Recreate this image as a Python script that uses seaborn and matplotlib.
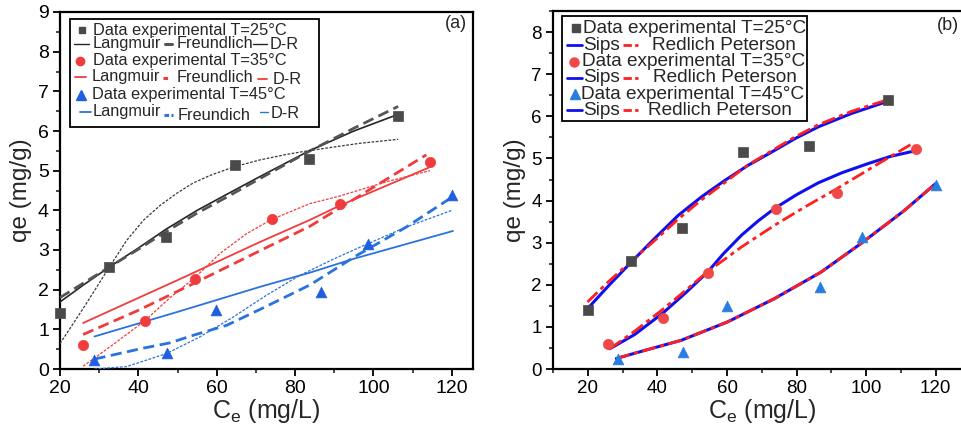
import numpy as np
import pandas as pd
import matplotlib
matplotlib.use("Agg")
import matplotlib.pyplot as plt
import seaborn as sns
from matplotlib.lines import Line2D
from matplotlib.patches import Rectangle
from matplotlib.ticker import MultipleLocator

# ---------------- data ----------------
ce_25 = [20.0, 32.4, 47.0, 64.7, 83.6, 106.3]
qe_25 = [1.40, 2.56, 3.34, 5.15, 5.30, 6.38]
ce_35 = [25.9, 41.7, 54.4, 74.1, 91.5, 114.4]
qe_35 = [0.60, 1.22, 2.28, 3.79, 4.17, 5.22]
ce_45 = [28.8, 47.4, 59.9, 86.7, 98.7, 120.1]
qe_45 = [0.23, 0.41, 1.49, 1.94, 3.14, 4.38]

# panel (a) model curves
lang25_x = [20, 26, 32.6, 40, 47, 55, 62.5, 71, 83.8, 95, 106.3]
lang25_y = [1.69, 2.12, 2.57, 3.05, 3.52, 4.00, 4.40, 4.85, 5.51, 6.00, 6.42]
freu25_x = [20, 32.6, 40, 47, 55, 62.5, 71, 83.8, 95, 106.3]
freu25_y = [1.80, 2.57, 3.02, 3.46, 3.93, 4.33, 4.80, 5.50, 6.07, 6.62]
dr25_x = [20, 26.4, 32.6, 37, 41.3, 45.5, 49.8, 54, 58.3, 64.2, 71, 77.8, 83.8, 96.5, 106.3]
dr25_y = [0.64, 1.60, 2.57, 3.24, 3.75, 4.12, 4.43, 4.69, 4.88, 5.09, 5.27, 5.41, 5.51, 5.69, 5.79]

lang35_x = [25.9, 50, 71, 83.8, 91.4, 114.4]
lang35_y = [1.16, 2.24, 3.20, 3.76, 4.12, 5.09]
freu35_x = [25.9, 40, 54, 71, 83.8, 91.4, 113.5]
freu35_y = [0.87, 1.48, 2.15, 2.98, 3.60, 4.06, 5.40]
dr35_x = [25.9, 33.6, 41.7, 48.1, 54.4, 60.8, 67.6, 74, 83.8, 91.4, 103.3, 114.4]
dr35_y = [0.07, 0.62, 1.22, 1.80, 2.30, 2.91, 3.41, 3.77, 4.17, 4.36, 4.72, 5.00]

lang45_x = [28.8, 50, 71, 83.8, 95, 120.3]
lang45_y = [0.82, 1.44, 2.07, 2.43, 2.78, 3.48]
freu45_x = [28.8, 41, 48.1, 54, 62.5, 71, 83.8, 95.7, 108.4, 120]
freu45_y = [0.25, 0.52, 0.66, 0.85, 1.10, 1.50, 2.12, 2.86, 3.58, 4.33]
dr45_x = [28.8, 37, 47.2, 55.7, 64.2, 72.7, 81.2, 90, 98.6, 108.4, 120]
dr45_y = [0.0, 0.06, 0.39, 0.81, 1.31, 1.86, 2.36, 2.78, 3.16, 3.58, 4.00]

# panel (b) model curves
sips25_x = [19.9, 26, 32.5, 39.2, 46, 52.7, 59.4, 66.1, 72.8, 79.5, 86.2, 95.8, 106.3]
sips25_y = [1.43, 1.98, 2.54, 3.10, 3.65, 4.09, 4.48, 4.84, 5.15, 5.47, 5.75, 6.07, 6.36]
rp25_x = [19.9, 26, 32.5, 39.2, 46, 52.7, 59.4, 66.1, 72.8, 79.5, 86.2, 95.8, 106.3]
rp25_y = [1.59, 2.08, 2.56, 3.05, 3.56, 4.02, 4.43, 4.85, 5.18, 5.51, 5.80, 6.12, 6.40]

sips35_x = [26.3, 33.5, 41.6, 48, 54.4, 59, 64.2, 69, 73.8, 80, 86.2, 93, 100.6, 107, 114.5]
sips35_y = [0.48, 0.82, 1.33, 1.80, 2.30, 2.74, 3.18, 3.52, 3.82, 4.14, 4.42, 4.66, 4.88, 5.05, 5.19]
rp35_x = [26.3, 33.5, 41.6, 48, 54.4, 64.2, 73.8, 82, 91.1, 103.6, 113.6]
rp35_y = [0.48, 0.90, 1.42, 1.86, 2.31, 2.90, 3.42, 3.83, 4.26, 4.88, 5.37]

sips45_x = [28.2, 36.3, 46.8, 60.2, 73.6, 87, 98.5, 110.9, 119.9]
sips45_y = [0.25, 0.44, 0.68, 1.12, 1.67, 2.30, 2.98, 3.76, 4.40]
rp45_x = [28.2, 36.3, 46.8, 60.2, 73.6, 87, 98.5, 110.9, 119.9]
rp45_y = [0.25, 0.44, 0.68, 1.12, 1.67, 2.30, 2.98, 3.76, 4.40]

xticks_a = [20, 40, 60, 80, 100, 120]
yticks_a = [0, 1, 2, 3, 4, 5, 6, 7, 8, 9]
xticks_b = [20, 40, 60, 80, 100, 120]
yticks_b = [0, 1, 2, 3, 4, 5, 6, 7, 8]

# ---------------- style ----------------
sns.set_style("ticks")
plt.rcParams['font.family'] = ['Liberation Sans', 'DejaVu Sans']
plt.rcParams['mathtext.fontset'] = 'custom'
plt.rcParams['mathtext.rm'] = 'Liberation Sans'
plt.rcParams['mathtext.it'] = 'Liberation Sans'

W, H = 961, 424
fig = plt.figure(figsize=(W / 100, H / 100), dpi=100)


def fx(px):
    return px / W


def fy(py):
    return 1 - py / H


axA = fig.add_axes([fx(60), fy(369), 413 / W, 357 / H])
axB = fig.add_axes([fx(553), fy(369), 417.6 / W, 357.9 / H])

BLK, BLK2 = '#262626', '#555555'
RED = '#f03c3c'
BLU = '#2a72dd'
SQ = '#4a4a4a'
TRI_A = '#1f5ee0'
TRI_B = '#2a7de0'
SIPS = '#1010ee'
RPC = '#ff1f1f'

DR_LS = (0, (2.2, 1.2))
FR_LS = (0, (4, 2))
RP_LS = (0, (5, 1.6, 1.5, 1.6))


def line(ax, x, y, color, lw, ls, z=3):
    sns.lineplot(x=x, y=y, ax=ax, sort=False, estimator=None, color=color,
                 linewidth=lw, linestyle=ls, legend=False, zorder=z)


def pts(ax, x, y, marker, color, s):
    sns.scatterplot(x=x, y=y, ax=ax, marker=marker, color=color, s=s,
                    edgecolor=color, linewidth=0.5, legend=False, zorder=6,
                    clip_on=False)


# ---- panel (a)
line(axA, lang25_x, lang25_y, BLK, 1.2, '-')
line(axA, freu25_x, freu25_y, BLK2, 2.0, FR_LS)
line(axA, dr25_x, dr25_y, '#3a3a3a', 0.9, DR_LS)
line(axA, lang35_x, lang35_y, RED, 1.3, '-')
line(axA, freu35_x, freu35_y, RED, 2.0, FR_LS)
line(axA, dr35_x, dr35_y, RED, 0.9, DR_LS)
line(axA, lang45_x, lang45_y, BLU, 1.3, '-')
line(axA, freu45_x, freu45_y, BLU, 2.0, FR_LS)
line(axA, dr45_x, dr45_y, BLU, 0.9, DR_LS)
pts(axA, ce_25, qe_25, 's', SQ, 42)
pts(axA, ce_35, qe_35, 'o', RED, 55)
pts(axA, ce_45, qe_45, '^', TRI_A, 60)

axA.set_xlim(20, 125.4)
axA.set_ylim(0, 9)
axA.set_xticks(xticks_a)
axA.set_yticks(yticks_a)

# ---- panel (b)
line(axB, sips25_x, sips25_y, SIPS, 2.2, '-', 3)
line(axB, rp25_x, rp25_y, RPC, 2.0, RP_LS, 4)
line(axB, sips35_x, sips35_y, SIPS, 2.2, '-', 3)
line(axB, rp35_x, rp35_y, RPC, 2.0, RP_LS, 4)
line(axB, sips45_x, sips45_y, SIPS, 2.2, '-', 3)
line(axB, rp45_x, rp45_y, RPC, 2.0, RP_LS, 4)
pts(axB, ce_25, qe_25, 's', SQ, 42)
pts(axB, ce_35, qe_35, 'o', '#f04848', 55)
pts(axB, ce_45, qe_45, '^', TRI_B, 60)

axB.set_xlim(10, 130)
axB.set_ylim(0, 8.5)
axB.set_xticks(xticks_b)
axB.set_yticks(yticks_b)

for ax, fs in ((axA, 14), (axB, 13.5)):
    ax.xaxis.set_minor_locator(MultipleLocator(10))
    ax.yaxis.set_minor_locator(MultipleLocator(0.5))
    ax.tick_params(which='major', direction='out', length=5, width=1.3,
                   labelsize=fs, pad=3, colors='black')
    ax.tick_params(which='minor', direction='out', length=3, width=1.2)
    for sp in ax.spines.values():
        sp.set_linewidth(1.6)
        sp.set_color('black')
        sp.set_visible(True)
    ax.set_xlabel(r'C$_\mathrm{e}$ (mg/L)', fontsize=18, labelpad=0)
    ax.set_ylabel('qe (mg/g)', fontsize=17.5, labelpad=4)

fig.text(fx(445), fy(24), '(a)', fontsize=13, va='center', ha='left')
fig.text(fx(937), fy(25), '(b)', fontsize=13, va='center', ha='left')

# ---------------- legends (hand-built to reproduce the mixed rows) ----------------
def legbox(x0, y0, x1, y1):
    r = Rectangle((fx(x0), fy(y1)), fx(x1) - fx(x0), fy(y0) - fy(y1),
                  transform=fig.transFigure, facecolor='white',
                  edgecolor='black', linewidth=1.3, zorder=20)
    fig.add_artist(r)
    return r


def ltxt(x, y, s, fs, clip=None):
    t = fig.text(fx(x), fy(y), s, fontsize=fs, va='center', ha='left', zorder=21)
    if clip is not None:
        t.set_clip_path(clip)
    return t


def lseg(x0, x1, y, color, lw, ls='-'):
    fig.add_artist(Line2D([fx(x0), fx(x1)], [fy(y), fy(y)], transform=fig.transFigure,
                          color=color, lw=lw, linestyle=ls, zorder=21))


def lmark(x, y, marker, color, ms):
    fig.add_artist(Line2D([fx(x)], [fy(y)], transform=fig.transFigure, marker=marker,
                          color=color, markersize=ms, linestyle='none', zorder=21))


FS_A = 11.8
legbox(70, 19.3, 319, 127)
lmark(81.7, 30, 's', SQ, 5)
ltxt(93.3, 30, 'Data experimental T=25°C', FS_A)
lseg(74, 89, 43.5, BLK, 1.0)
ltxt(92.7, 43.5, 'Langmuir', FS_A)
lseg(165, 172, 43.5, BLK2, 2.2)
ltxt(176.7, 43.5, 'Freundlich', FS_A)
lseg(253, 267, 43.5, BLK, 1.0)
ltxt(270, 44.5, 'D-R', FS_A)

lmark(80, 60.5, 'o', RED, 6)
ltxt(93.3, 60.5, 'Data experimental T=35°C', FS_A)
lseg(75, 86, 77, RED, 1.3)
ltxt(92, 77, 'Langmuir', FS_A)
lseg(163, 170, 78, RED, 2.2, (0, (1.5, 0.8)))
ltxt(177, 78, 'Freundlich', FS_A)
lseg(258, 267, 78.5, RED, 1.3)
ltxt(273, 79, 'D-R', FS_A)

lmark(81, 95, '^', TRI_A, 6.5)
ltxt(92, 95, 'Data experimental T=45°C', FS_A)
lseg(80, 91, 111.7, BLU, 1.3)
ltxt(93, 111.7, 'Langmuir', FS_A)
lseg(164, 173, 115, BLU, 2.2, (0, (1.5, 0.8)))
ltxt(178, 115, 'Freundich', FS_A)
lseg(260, 268, 111.7, BLU, 1.0)
ltxt(271, 114, 'D-R', FS_A)

FS_B = 13.7
rb = legbox(562.3, 16, 806.7, 121)
rows_y = [28.3, 45, 61.7, 77.7, 94.3, 110.3]
lmark(576, rows_y[0], 's', SQ, 6)
ltxt(583.3, rows_y[0], 'Data experimental T=25°C', FS_B, rb)
lmark(574, rows_y[2], 'o', '#f04848', 6.5)
ltxt(582.3, rows_y[2], 'Data experimental T=35°C', FS_B, rb)
lmark(575, rows_y[4], '^', TRI_B, 7)
ltxt(580.7, rows_y[4], 'Data experimental T=45°C', FS_B, rb)
for ry, rx in ((rows_y[1], 651.7), (rows_y[3], 653), (rows_y[5], 648)):
    lseg(566.7, 581.7, ry, SIPS, 2.0)
    ltxt(582.7, ry, 'Sips', FS_B, rb)
    lseg(622.7, 638.3, ry, RPC, 2.0, (0, (3, 1.2, 1.2, 1.2)))
    ltxt(rx, ry, 'Redlich Peterson', FS_B, rb)

fig.savefig('out.png', dpi=100)
